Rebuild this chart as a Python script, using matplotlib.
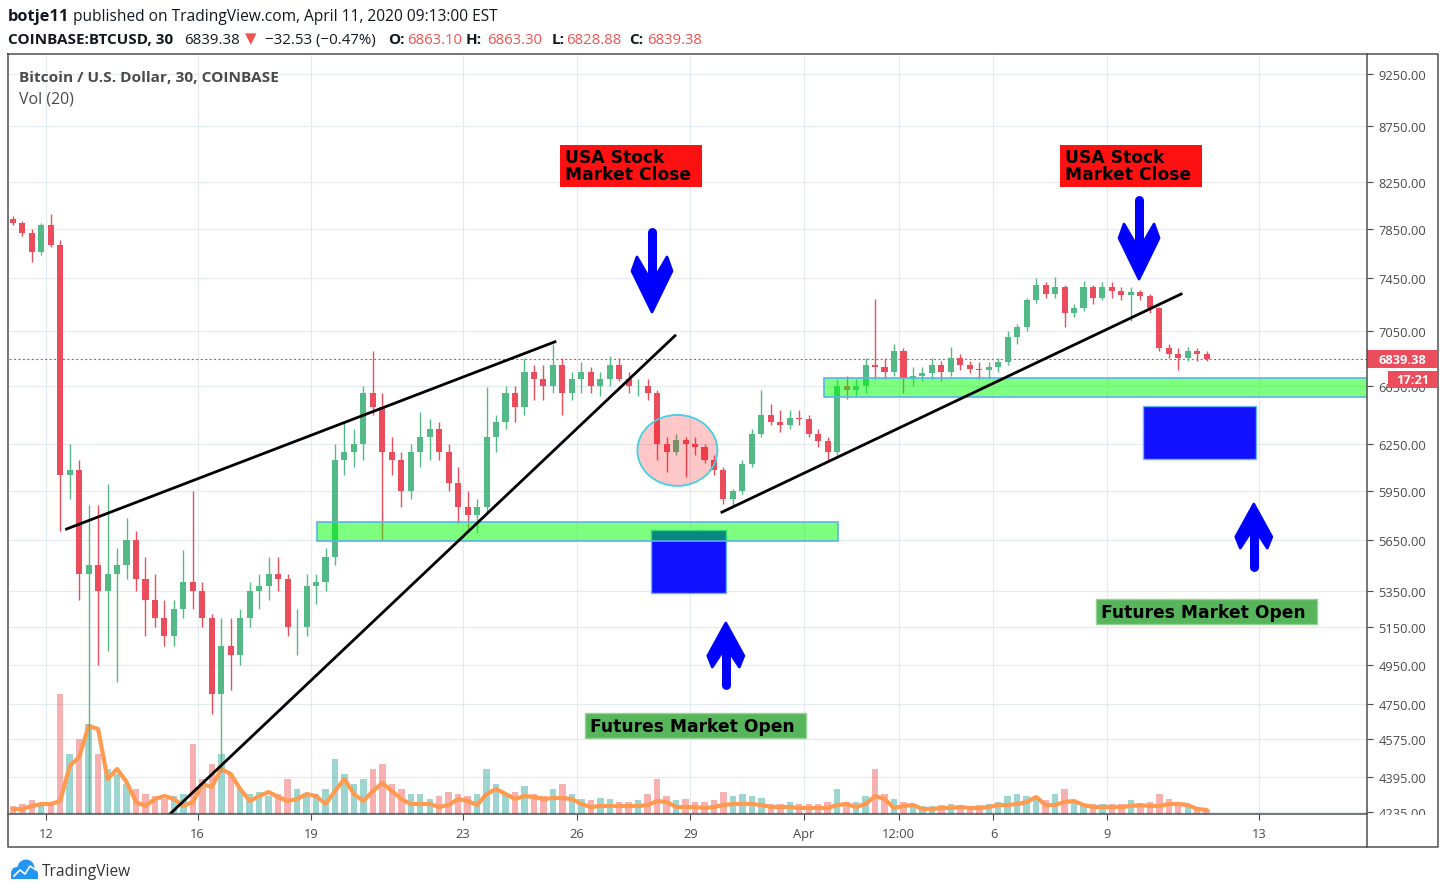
import pandas as pd
import numpy as np
import matplotlib
matplotlib.use("Agg")
import matplotlib.pyplot as plt
import matplotlib.dates as mdates
from matplotlib.patches import Rectangle, Ellipse, Polygon, Circle
from matplotlib.lines import Line2D
from matplotlib.transforms import ScaledTranslation, blended_transform_factory
from matplotlib.ticker import NullLocator

plt.rcParams['font.family'] = ['Open Sans', 'DejaVu Sans']

W, H, DPI = 1446, 895, 100

# BTCUSD, grouped into 6 hour candles from 2020-03-11 00:00 UTC
start = "2020-03-11 00:00"
first_open = 7930
closes = [
    7900, 7820, 7660, 7880,   # Mar 11
    7720, 6050, 6080, 5450,   # Mar 12
    5500, 5350, 5450, 5500,   # Mar 13
    5650, 5420, 5300, 5200,   # Mar 14
    5100, 5250, 5400, 5350,   # Mar 15
    5200, 4800, 5050, 5000,   # Mar 16
    5200, 5350, 5380, 5450,   # Mar 17
    5420, 5150, 5150, 5380,   # Mar 18
    5400, 5550, 6150, 6200,   # Mar 19
    6250, 6600, 6500, 6200,   # Mar 20
    6150, 5950, 6200, 6300,   # Mar 21
    6350, 6200, 6000, 5850,   # Mar 22
    5800, 5850, 6300, 6400,   # Mar 23
    6600, 6500, 6750, 6700,   # Mar 24
    6650, 6800, 6600, 6700,   # Mar 25
    6750, 6650, 6700, 6800,   # Mar 26
    6700, 6650, 6650, 6600,   # Mar 27
    6250, 6200, 6280, 6250,   # Mar 28
    6230, 6150, 6080, 5900,   # Mar 29
    5950, 6120, 6320, 6450,   # Mar 30
    6400, 6380, 6430, 6420,   # Mar 31
    6320, 6270, 6200, 6650,   # Apr 1
    6620, 6650, 6800, 6780,   # Apr 2
    6750, 6900, 6700, 6720,   # Apr 3
    6740, 6800, 6750, 6850,   # Apr 4
    6800, 6770, 6760, 6780,   # Apr 5
    6820, 7000, 7080, 7280,   # Apr 6
    7400, 7330, 7380, 7180,   # Apr 7
    7220, 7380, 7300, 7380,   # Apr 8
    7350, 7320, 7340, 7310,   # Apr 9
    7220, 6920, 6880, 6850,   # Apr 10
    6900, 6880, 6839.38,      # Apr 11
]
highs = [
    7960, 7920, 7850, 7900,
    7980, 7760, 6250, 6150,
    5860, 5860, 5990, 5600,
    5780, 5700, 5550, 5450,
    5300, 5300, 5590, 5950,
    5400, 5220, 5200, 5200,
    5250, 5400, 5450, 5550,
    5550, 5450, 5250, 5450,
    5450, 5600, 6250, 6400,
    6350, 6650, 6900, 6600,
    6300, 6200, 6250, 6470,
    6420, 6400, 6250, 6100,
    5950, 5900, 6640, 6450,
    6650, 6650, 6850, 6800,
    6800, 6950, 6850, 6750,
    6820, 6780, 6750, 6860,
    6850, 6750, 6700, 6700,
    6620, 6300, 6320, 6300,
    6300, 6250, 6180, 6100,
    5960, 6150, 6350, 6620,
    6520, 6480, 6480, 6480,
    6450, 6350, 6300, 6700,
    6720, 6700, 6850, 7290,
    6850, 6950, 6920, 6780,
    6780, 6850, 6830, 6930,
    6880, 6830, 6820, 6820,
    6850, 7050, 7100, 7300,
    7450, 7420, 7460, 7400,
    7250, 7430, 7400, 7420,
    7420, 7380, 7380, 7360,
    7330, 7230, 6950, 6920,
    6930, 6920, 6900,
]
lows = [
    7880, 7790, 7580, 7640,
    7700, 5700, 5900, 5300,
    3860, 4950, 5020, 4860,
    5420, 5350, 5100, 5150,
    5050, 5050, 5200, 5250,
    5150, 4700, 4420, 4820,
    4950, 5150, 5250, 5300,
    5350, 5100, 5000, 5100,
    5280, 5350, 5500, 6050,
    6100, 6150, 6450, 5650,
    6050, 5850, 5900, 6100,
    6150, 6150, 5950, 5750,
    5700, 5690, 5820, 6200,
    6350, 6400, 6450, 6550,
    6550, 6600, 6450, 6550,
    6600, 6600, 6580, 6650,
    6680, 6600, 6580, 6550,
    6150, 6070, 6180, 6040,
    6180, 6130, 6050, 5870,
    5860, 5930, 6100, 6300,
    6380, 6330, 6350, 6380,
    6300, 6230, 6150, 6180,
    6560, 6580, 6600, 6700,
    6700, 6720, 6600, 6650,
    6680, 6700, 6680, 6720,
    6760, 6740, 6700, 6700,
    6750, 6800, 6950, 7050,
    7260, 7300, 7300, 7080,
    7150, 7200, 7250, 7280,
    7300, 7280, 7120, 7280,
    7180, 6900, 6850, 6760,
    6830, 6830, 6828.88,
]
# volume (relative, read as bar height) and its 20 period average
volume = [
    8, 10, 14, 10,    12, 120, 60, 75,
    90, 60, 45, 40,   30, 25, 20, 18,
    15, 18, 20, 70,   35, 50, 60, 40,
    25, 20, 22, 18,   20, 35, 25, 18,
    20, 25, 55, 40,   30, 35, 45, 50,
    30, 25, 20, 20,   15, 18, 22, 20,
    18, 20, 45, 30,   20, 22, 28, 20,
    18, 25, 30, 20,   15, 14, 16, 15,
    12, 12, 14, 20,   35, 18, 14, 15,
    12, 12, 14, 22,   18, 20, 18, 16,
    10, 10, 12, 10,   10, 10, 12, 25,
    12, 12, 18, 45,   20, 15, 12, 10,
    8, 8, 9, 10,      8, 8, 9, 10,
    12, 18, 20, 18,   16, 14, 20, 25,
    12, 10, 10, 10,   10, 10, 14, 10,
    12, 20, 15, 12,   8, 7, 5,
]
vol_ma = [
    5, 5, 8, 10,      10, 13, 48, 57,
    88, 85, 35, 45,   32, 12, 8, 15,
    18, 15, 8, 12,    30, 27, 45, 40,
    25, 13, 18, 22,   17, 13, 15, 20,
    18, 10, 23, 35,   20, 13, 23, 31,
    23, 15, 10, 10,   10, 7, 9, 15,
    13, 9, 20, 25,    20, 15, 18, 17,
    15, 16, 16, 15,   10, 7, 8, 8,
    8, 8, 8, 9,       13, 12, 7, 7,
    7, 6, 7, 9,       10, 10, 10, 9,
    7, 7, 7, 6,       6, 6, 6, 9,
    10, 7, 10, 18,    15, 6, 8, 9,
    5, 5, 6, 6,       7, 6, 6, 7,
    9, 9, 10, 12,     17, 9, 9, 12,
    13, 9, 7, 7,      7, 7, 8, 9,
    8, 8, 10, 10,     9, 5, 4,
]
last_price = 6839.38

price_ticks = [9250, 8750, 8250, 7850, 7450, 7050, 6650, 6250, 5950,
               5650, 5350, 5150, 4950, 4750, 4575, 4395, 4235]
time_ticks = ["2020-03-12 00:00", "2020-03-16 00:00", "2020-03-19 00:00", "2020-03-23 00:00",
              "2020-03-26 00:00", "2020-03-29 00:00", "2020-04-01 00:00", "2020-04-03 12:00",
              "2020-04-06 00:00", "2020-04-09 00:00", "2020-04-13 00:00"]
time_labels = ["12", "16", "19", "23", "26", "29", "Apr", "12:00", "6", "9", "13"]

# drawings on the chart: (time, price)
trend_lines = [
    (("2020-03-12 13:00", 5714), ("2020-03-25 10:20", 6967)),
    (("2020-03-15 06:30", 4226), ("2020-03-28 14:20", 7012)),
    (("2020-03-29 20:00", 5817), ("2020-04-10 22:50", 7328)),
]
green_zones = [("2020-03-19 03:40", "2020-04-01 21:40", 5642, 5756),
               ("2020-04-01 12:40", "2020-04-16 00:00", 6571, 6705)]
blue_zones = [("2020-03-27 23:00", "2020-03-29 22:30", 5340, 5708),
              ("2020-04-09 22:30", "2020-04-12 22:20", 6154, 6508)]
close_boxes = [("2020-03-25 13:30", 8580), ("2020-04-07 18:00", 8580)]
open_boxes = [("2020-03-26 05:20", 4703), ("2020-04-08 16:50", 5306)]
down_arrows = [("2020-03-27 23:45", 7190), ("2020-04-09 20:10", 7445)]
up_arrows = [("2020-03-29 22:30", 5173), ("2020-04-12 20:50", 5867)]
circle_center = ("2020-03-28 15:50", 6210)

UP, DOWN = "#53b987", "#eb4d5c"
GRID = "#e3eaf0"
TXT = "#4a4a4a"
BLUE = "#0000ff"


def tnum(t):
    return mdates.date2num(pd.Timestamp(t))


opens = [first_open] + closes[:-1]
times = pd.date_range(start, periods=len(closes), freq="6h") + pd.Timedelta(hours=3)
x = mdates.date2num(times)
is_up = np.array(closes) >= np.array(opens)
colors = np.where(is_up, UP, DOWN)

day0 = tnum("2020-03-12")
xlim = (day0 - 0.976, day0 + 34.855)
ylim = (4226, 9438)
VOL_TOP = 759

fig = plt.figure(figsize=(W / DPI, H / DPI), dpi=DPI)
rect = [9 / W, (H - 815) / H, (1367 - 9) / W, (815 - 56) / H]

# volume pane (bottom layer, also carries the grid)
axv = fig.add_axes(rect)
axv.set_xlim(xlim)
axv.set_ylim(0, VOL_TOP)
tick_x = [tnum(t) for t in time_ticks]
axv.vlines(tick_x, 0, VOL_TOP, color=GRID, lw=0.8, zorder=0)
grid_y = [np.log(p / ylim[0]) / np.log(ylim[1] / ylim[0]) * VOL_TOP for p in price_ticks]
axv.hlines(grid_y, xlim[0], xlim[1], color=GRID, lw=0.8, zorder=0)
vol_colors = np.where(is_up, "#26a69a", "#ef5350")
axv.bar(x, volume, width=0.17, color=vol_colors, alpha=0.45, zorder=1)
axv.plot(x, vol_ma, color="#ff9a50", lw=3, solid_capstyle="round", zorder=2)
axv.axis("off")

# price pane
ax = fig.add_axes(rect)
ax.patch.set_visible(False)
ax.set_yscale("log")
ax.axhline(last_price, color=DOWN, lw=0.8, ls=(0, (2, 2)), zorder=1)
ax.vlines(x, lows, highs, colors=colors, lw=1, zorder=2)
ax.bar(x, np.abs(np.array(closes) - np.array(opens)),
       bottom=np.minimum(closes, opens), width=0.16, color=colors, zorder=3)


def anchor(t, p):
    return ScaledTranslation(tnum(t), p, ax.transData)


for (t0, lo), (t1, hi) in trend_lines:
    ax.plot([tnum(t0), tnum(t1)], [lo, hi], color="black", lw=2, zorder=6)

for t0, t1, lo, hi in blue_zones:
    ax.add_patch(Rectangle((tnum(t0), lo), tnum(t1) - tnum(t0), hi - lo,
                           facecolor="#1111ff", edgecolor="#6ab8f0", lw=1, zorder=4))
for t0, t1, lo, hi in green_zones:
    ax.add_patch(Rectangle((tnum(t0), lo), tnum(t1) - tnum(t0), hi - lo,
                           facecolor=(0, 1, 0, 0.5), edgecolor="#5ab4ea", lw=1.2, zorder=5))

ax.add_patch(Ellipse((0, 0), 80, 71, transform=anchor(*circle_center),
                     facecolor=(1, 0, 0, 0.22), edgecolor="#3fd2e6", lw=1.3, zorder=5))

for t, p in close_boxes:
    tr = anchor(t, p)
    ax.add_patch(Rectangle((0, -42), 142, 42, transform=tr, facecolor="#ff1111",
                           edgecolor="none", zorder=7))
    for dy, s in [(-16.7, "USA Stock"), (-34, "Market Close")]:
        ax.text(5, dy, s, transform=tr, fontsize=12.3, weight="bold",
                family="DejaVu Sans", va="baseline", color="black", zorder=8)

for t, p in open_boxes:
    tr = anchor(t, p)
    ax.add_patch(Rectangle((0, -25), 221, 25, transform=tr, facecolor="#57b55b",
                           edgecolor="#93d393", lw=1, zorder=7, clip_on=False))
    ax.text(5.4, -17.7, "Futures Market Open", transform=tr, fontsize=12.3,
            weight="bold", family="DejaVu Sans", va="baseline", color="black", zorder=8)


def draw_arrow(t, p, k, length, head_len, half_w, shaft_w):
    # k = 1: body above the tip (points down), k = -1: body below (points up)
    tr = anchor(t, p)
    head = [(0, 0), (-half_w, 0.745 * head_len), (-0.75 * half_w, head_len),
            (-0.2 * half_w, 0.655 * head_len), (0.2 * half_w, 0.655 * head_len),
            (0.75 * half_w, head_len), (half_w, 0.745 * head_len)]
    ax.add_patch(Polygon([(hx, k * hy) for hx, hy in head], closed=True, transform=tr,
                         facecolor=BLUE, edgecolor=BLUE, lw=2, joinstyle="round", zorder=7))
    ax.add_line(Line2D([0, 0], [k * 0.6 * head_len, k * (length - shaft_w / 2)],
                       transform=tr, color=BLUE, lw=shaft_w * 0.72,
                       solid_capstyle="round", zorder=7))


for t, p in down_arrows:
    draw_arrow(t, p, 1, 84, 55, 20, 9)
for t, p in up_arrows:
    draw_arrow(t, p, -1, 67, 44, 18, 9)

# last price labels on the price scale
tr_r = ScaledTranslation(1.0, last_price, blended_transform_factory(ax.transAxes, ax.transData))
ax.add_patch(Rectangle((0, -9), 70, 18, transform=tr_r, facecolor=DOWN,
                       edgecolor="none", clip_on=False, zorder=9))
ax.text(35, 0, f"{last_price:.2f}", transform=tr_r, color="white", fontsize=9.3,
        weight="bold", ha="center", va="center", zorder=10)
ax.add_patch(Rectangle((21, -29), 49, 17, transform=tr_r, facecolor=DOWN,
                       edgecolor="none", clip_on=False, zorder=9))
ax.text(45.5, -20.5, "17:21", transform=tr_r, color="white", fontsize=9.3,
        weight="bold", ha="center", va="center", zorder=10)

ax.set_xlim(xlim)
ax.set_ylim(ylim)
ax.yaxis.tick_right()
ax.set_yticks(price_ticks)
ax.set_yticklabels([f"{p:.2f}" for p in price_ticks])
ax.yaxis.set_minor_locator(NullLocator())
ax.set_xticks(tick_x)
ax.set_xticklabels(time_labels)
ax.xaxis.set_minor_locator(NullLocator())
ax.tick_params(axis="y", length=4, color=TXT, labelcolor=TXT, labelsize=9.3, pad=4.3)
ax.tick_params(axis="x", length=4, color=TXT, labelcolor=TXT, labelsize=9.3, pad=5.5)
for sp in ax.spines.values():
    sp.set_visible(False)

# page chrome in pixel coordinates
chrome = fig.add_axes([0, 0, 1, 1], zorder=10)
chrome.set_xlim(0, W)
chrome.set_ylim(H, 0)
chrome.axis("off")
chrome.patch.set_visible(False)
chrome.add_patch(Rectangle((1368, 816), 69, 31, facecolor="white", edgecolor="none"))
FRAME = "#505050"
chrome.plot([8, 1438, 1438, 8, 8], [55, 55, 848, 848, 55], color=FRAME, lw=1.1)
chrome.plot([1367, 1367], [55, 848], color=FRAME, lw=1.1)
chrome.plot([8, 1367], [815, 815], color=FRAME, lw=1.1)

HDR = "#131722"
RED = "#ef5350"
# header pieces: (left x, text, colour, bold, size)
header_1 = [(8, "botje11", HDR, True, 11.8),
            (73, "published on TradingView.com, April 11, 2020 09:13:00 EST", HDR, False, 11.2)]
header_2 = [(8, "COINBASE:BTCUSD, 30", HDR, True, 11), (184, "6839.38", HDR, False, 10.8),
            (245, "▼", RED, False, 10.8), (265, "\u221232.53 (\u22120.47%)", HDR, False, 10.8),
            (388, "O:", HDR, True, 11), (407, "6863.10", RED, False, 10.7),
            (466, "H:", HDR, True, 11), (487, "6863.30", RED, False, 10.7),
            (552, "L:", HDR, True, 11), (566, "6828.88", RED, False, 10.7),
            (629, "C:", HDR, True, 11), (647, "6839.38", RED, False, 10.7)]
for pieces, base in [(header_1, 21), (header_2, 43.5)]:
    for px, s, col, bold, size in pieces:
        chrome.text(px, base, s, color=col, fontsize=size,
                    weight="bold" if bold else "normal", va="baseline", ha="left")

chrome.text(19, 82, "Bitcoin / U.S. Dollar, 30, COINBASE", color=TXT, weight="bold",
            fontsize=11.1, va="baseline")
chrome.text(19, 103, "Vol (20)", color=TXT, fontsize=11.4, va="baseline")

# TradingView logo
for cx, cy, r in [(17, 874, 6), (26, 869, 8.5), (33, 875, 5)]:
    chrome.add_patch(Circle((cx, cy), r, facecolor="#2196f3", edgecolor="none"))
chrome.add_patch(Rectangle((11, 874), 27, 6, facecolor="#2196f3", edgecolor="none"))
chrome.plot([14, 20, 25, 30, 36], [877, 871, 875, 867, 871], color="white", lw=1.2)
chrome.text(42, 876.5, "TradingView", color="#333333", fontsize=11.2, va="baseline")

fig.savefig("out.png", dpi=DPI, facecolor="white")
